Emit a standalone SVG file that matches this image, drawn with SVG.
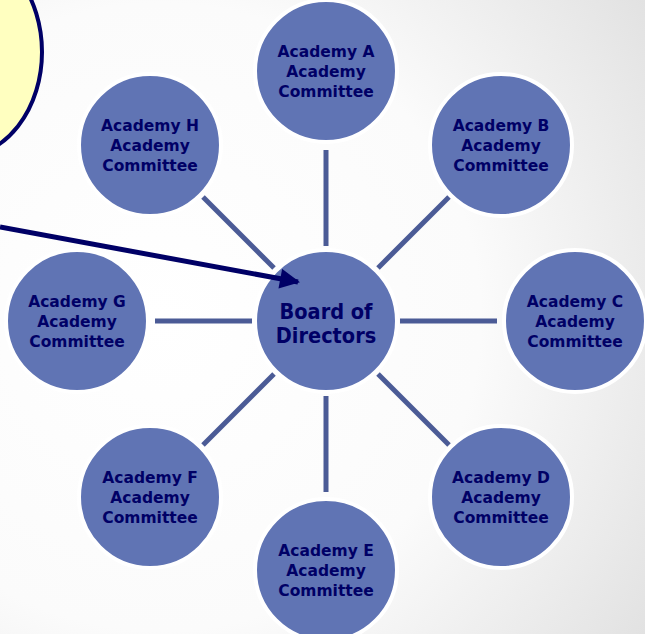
<svg xmlns="http://www.w3.org/2000/svg" width="645" height="634" viewBox="0 0 645 634">
<defs>
<radialGradient id="bg" cx="0.25" cy="0.5" r="0.9">
<stop offset="0" stop-color="#ffffff"/>
<stop offset="0.55" stop-color="#fbfbfb"/>
<stop offset="1" stop-color="#e2e2e2"/>
</radialGradient>
<marker id="ah" viewBox="0 0 10 10" refX="9" refY="5" markerWidth="5" markerHeight="4" orient="auto" markerUnits="strokeWidth">
<path d="M0,0 L10,5 L0,10 z" fill="#000066"/>
</marker>
<style>
.n{fill:#6074b4;stroke:#ffffff;stroke-width:4}
.t{font-family:"DejaVu Sans","Verdana",sans-serif;font-weight:bold;font-size:15.5px;fill:#000066;text-anchor:middle}
.c{font-family:"DejaVu Sans Condensed","DejaVu Sans",sans-serif;font-size:21.5px}
.s{stroke:#4b5b96;stroke-width:5;fill:none}
</style>
</defs>
<rect width="645" height="634" fill="url(#bg)"/>
<g id="callout">
<ellipse cx="-40" cy="52" rx="82" ry="105" fill="#ffffc0" stroke="#000066" stroke-width="4"/>
</g>
<g id="connectors">
<line class="s" x1="326" y1="150" x2="326" y2="246"/>
<line class="s" x1="326" y1="396" x2="326" y2="492"/>
<line class="s" x1="155" y1="321" x2="252" y2="321"/>
<line class="s" x1="400" y1="321" x2="497" y2="321"/>
<line class="s" x1="203" y1="197" x2="274" y2="268"/>
<line class="s" x1="449" y1="197" x2="378" y2="268"/>
<line class="s" x1="203" y1="445" x2="274" y2="374"/>
<line class="s" x1="449" y1="445" x2="378" y2="374"/>
</g>
<g id="board"><circle class="n" cx="326" cy="321" r="71"/><text class="t c" x="326" y="319">Board of</text><text class="t c" x="326" y="343">Directors</text></g>
<g id="academyA"><circle class="n" cx="326" cy="71" r="71"/><text class="t" x="326" y="57">Academy A</text><text class="t" x="326" y="77">Academy</text><text class="t" x="326" y="97">Committee</text></g>
<g id="academyB"><circle class="n" cx="501" cy="145" r="71"/><text class="t" x="501" y="131">Academy B</text><text class="t" x="501" y="151">Academy</text><text class="t" x="501" y="171">Committee</text></g>
<g id="academyC"><circle class="n" cx="575" cy="321" r="71"/><text class="t" x="575" y="307">Academy C</text><text class="t" x="575" y="327">Academy</text><text class="t" x="575" y="347">Committee</text></g>
<g id="academyD"><circle class="n" cx="501" cy="497" r="71"/><text class="t" x="501" y="483">Academy D</text><text class="t" x="501" y="503">Academy</text><text class="t" x="501" y="523">Committee</text></g>
<g id="academyE"><circle class="n" cx="326" cy="570" r="71"/><text class="t" x="326" y="556">Academy E</text><text class="t" x="326" y="576">Academy</text><text class="t" x="326" y="596">Committee</text></g>
<g id="academyF"><circle class="n" cx="150" cy="497" r="71"/><text class="t" x="150" y="483">Academy F</text><text class="t" x="150" y="503">Academy</text><text class="t" x="150" y="523">Committee</text></g>
<g id="academyG"><circle class="n" cx="77" cy="321" r="71"/><text class="t" x="77" y="307">Academy G</text><text class="t" x="77" y="327">Academy</text><text class="t" x="77" y="347">Committee</text></g>
<g id="academyH"><circle class="n" cx="150" cy="145" r="71"/><text class="t" x="150" y="131">Academy H</text><text class="t" x="150" y="151">Academy</text><text class="t" x="150" y="171">Committee</text></g>
<g id="callout-arrow">
<line x1="0" y1="227" x2="298" y2="282" stroke="#000066" stroke-width="5" marker-end="url(#ah)"/>
</g>
</svg>
